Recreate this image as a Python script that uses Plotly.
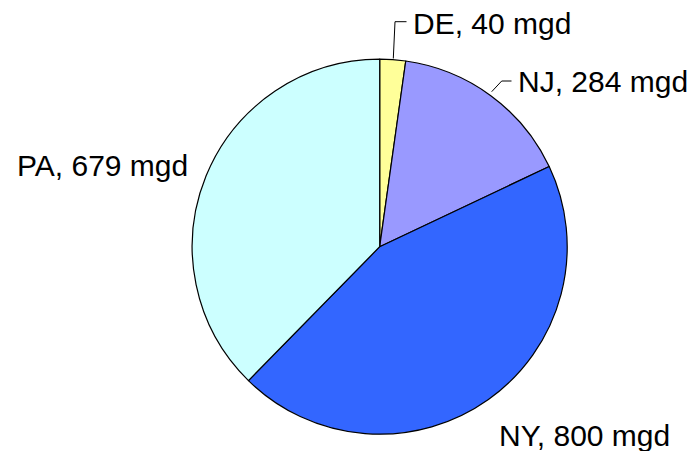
import plotly.graph_objects as go

states = ["DE", "NJ", "NY", "PA"]
mgd = [40, 284, 800, 679]
colors = ["#FFFF99", "#9999FF", "#3366FF", "#CCFFFF"]

OFF = 8  # page body margin
W, H = 698 - OFF, 451 - OFF
cx, cy, r = 379.7 - OFF, 246.7 - OFF, 187.5

def px(x):
    return (x - OFF) / W

def py(y):
    return 1 - (y - OFF) / H

fig = go.Figure(go.Pie(
    labels=states, values=mgd, sort=False, direction="clockwise", rotation=0,
    marker=dict(colors=colors, line=dict(color="black", width=1.2)),
    textinfo="none", hoverinfo="label+value", showlegend=False,
    domain=dict(x=[(cx - r) / W, (cx + r) / W], y=[1 - (cy + r) / H, 1 - (cy - r) / H]),
))

label_pos = {"DE": (411, 23), "NJ": (516, 82), "PA": (15, 165), "NY": (497, 435)}
font = dict(family="Liberation Sans, Arial, sans-serif", size=30, color="black")
for s, v in zip(states, mgd):
    x, y = label_pos[s]
    fig.add_annotation(x=px(x), y=py(y), xref="paper", yref="paper", text=f"{s}, {v} mgd",
                       showarrow=False, xanchor="left", yanchor="middle", font=font)

# leader lines
leaders = [
    [(393.3, 58.5), (395.0, 21.7), (406.5, 21.7)],
    [(491.7, 91.7), (501.7, 81.0), (511.5, 81.0)],
]
for pts in leaders:
    for (x0, y0), (x1, y1) in zip(pts[:-1], pts[1:]):
        fig.add_shape(type="line", xref="paper", yref="paper",
                      x0=px(x0), y0=py(y0), x1=px(x1), y1=py(y1),
                      line=dict(color="black", width=1))

fig.update_layout(width=W, height=H, margin=dict(l=0, r=0, t=0, b=0),
                  paper_bgcolor="white", plot_bgcolor="white")
fig.write_html("out.html")
